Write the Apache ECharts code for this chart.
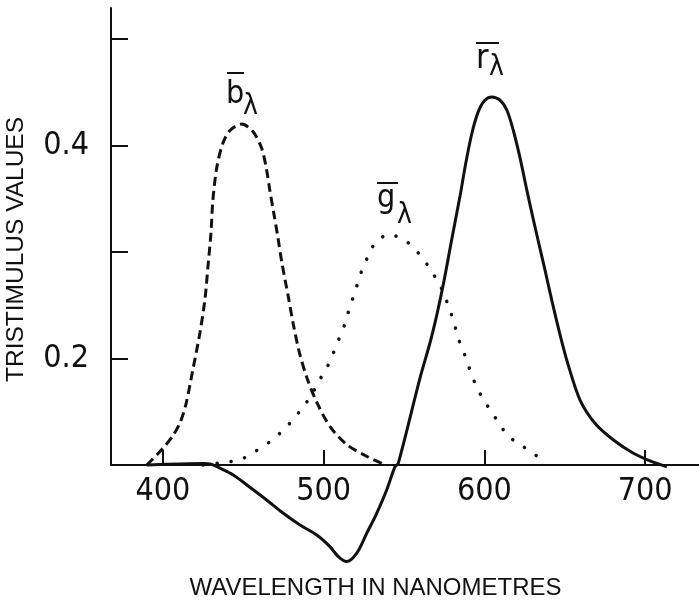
<!DOCTYPE html>
<html>
<head>
<meta charset="utf-8">
<script src="https://cdn.jsdelivr.net/npm/echarts@6/dist/echarts.min.js"></script>
<style>
  html, body { margin: 0; padding: 0; background: #fff; }
  #chart { width: 699px; height: 603px; }
</style>
</head>
<body>
<div id="chart"></div>
<script>
// tristimulus curves, wavelength (nm) and value
const bWave = [390, 392, 399, 406, 411, 414.3, 418.7, 423, 426.1, 428, 429.9, 431.1, 433.6, 437.3, 441.7, 449, 456, 461.5, 464.5, 466.5, 469, 471.5, 474, 478, 481, 485, 490, 496, 504, 514.5, 527, 537];
const bVal = [0.100, 0.103, 0.114, 0.127, 0.141, 0.157, 0.190, 0.224, 0.255, 0.286, 0.318, 0.349, 0.380, 0.402, 0.414, 0.420, 0.413, 0.397, 0.377, 0.358, 0.336, 0.314, 0.290, 0.258, 0.233, 0.205, 0.180, 0.158, 0.136, 0.119, 0.108, 0.101];

const gWave = [425, 438, 448, 457.7, 466.6, 474.4, 480.6, 487, 492.6, 497.1, 501.9, 506, 509.7, 513.3, 516, 518.9, 521.7, 524.5, 527.4, 531.9, 540.7, 551.2, 558.3, 564.5, 569.9, 574.5, 577.6, 581.1, 583.2, 586.9, 590.6, 593.8, 598.4, 603.5, 609.4, 614.9, 622.6, 630, 637.8];
const gVal = [0.100, 0.1025, 0.105, 0.113, 0.122, 0.132, 0.142, 0.154, 0.166, 0.179, 0.191, 0.205, 0.219, 0.233, 0.247, 0.260, 0.273, 0.286, 0.295, 0.308, 0.3165, 0.310, 0.300, 0.288, 0.275, 0.262, 0.249, 0.234, 0.221, 0.207, 0.191, 0.178, 0.164, 0.152, 0.1385, 0.127, 0.119, 0.111, 0.1035];

const rWave = [390, 410.6, 426.1, 429.3, 435.5, 443.8, 454.1, 464.5, 474.9, 485.3, 495.7, 503.9, 509.1, 514.3, 520.6, 526.8, 533, 539.2, 544.4, 546.4, 560, 566.2, 570.4, 574.5, 579.7, 584.9, 588, 592, 596, 600, 604.6, 609.7, 614, 618, 622.2, 626.4, 630.5, 634, 638, 642, 647.1, 652.3, 659.5, 668.9, 680.3, 692.7, 704.2, 713.5];
const rVal = [0.100, 0.101, 0.1014, 0.101, 0.097, 0.0906, 0.0791, 0.0672, 0.0547, 0.0437, 0.0343, 0.0234, 0.014, 0.0093, 0.0172, 0.0359, 0.0547, 0.0765, 0.0984, 0.1016, 0.182, 0.215, 0.241, 0.270, 0.312, 0.353, 0.380, 0.410, 0.431, 0.442, 0.4455, 0.4425, 0.433, 0.414, 0.388, 0.358, 0.330, 0.307, 0.281, 0.254, 0.222, 0.193, 0.161, 0.139, 0.1235, 0.111, 0.1031, 0.0984];

const xTicks = [400, 500, 600, 700];
const yTicks = [0.2, 0.3, 0.4, 0.5];
const yLabels = [0.2, 0.4];

const narrow = '"Liberation Sans Narrow", "DejaVu Sans Condensed", sans-serif';
const plain = '"Liberation Sans", Arial, sans-serif';

function pairs(xs, ys) {
  return xs.map((x, i) => [x, ys[i]]);
}

// curve label: letter with a bar over it and a lambda subscript
function curveLabel(letter, x, y, size, barFrom, barTo, barY, lx, ly) {
  return [
    { type: 'text', x: x, y: y, style: { text: letter, font: size + 'px ' + narrow, fill: '#111', verticalAlign: 'middle' } },
    { type: 'line', shape: { x1: barFrom, y1: barY, x2: barTo, y2: barY }, style: { stroke: '#111', lineWidth: 2 } },
    { type: 'text', x: lx, y: ly, style: { text: 'λ', font: '28px ' + narrow, fill: '#111', verticalAlign: 'middle' } }
  ];
}

const chart = echarts.init(document.getElementById('chart'));
const option = {
  backgroundColor: '#fff',
  animation: false,
  grid: { left: 111, right: 0, top: 8, bottom: 138, containLabel: false },
  xAxis: {
    type: 'value',
    min: 367.7,
    max: 733.5,
    splitLine: { show: false },
    axisLine: { lineStyle: { color: '#111', width: 2 } },
    axisTick: { inside: true, length: 15, customValues: xTicks, lineStyle: { color: '#111', width: 2 } },
    axisLabel: { customValues: xTicks, margin: 11, color: '#111', fontSize: 32, fontFamily: narrow }
  },
  yAxis: {
    type: 'value',
    min: 0.1,
    max: 0.529,
    splitLine: { show: false },
    axisLine: { lineStyle: { color: '#111', width: 2 } },
    axisTick: { inside: true, length: 17, customValues: yTicks, lineStyle: { color: '#111', width: 2 } },
    axisLabel: { customValues: yLabels, margin: 22, color: '#111', fontSize: 32, fontFamily: narrow,
      formatter: v => v.toFixed(1) }
  },
  graphic: [
    { type: 'text', x: 16, y: 249.5, rotation: Math.PI / 2,
      style: { text: 'TRISTIMULUS VALUES', font: '24.5px ' + plain, fill: '#111', align: 'center', verticalAlign: 'middle' } },
    { type: 'text', x: 375.5, y: 588,
      style: { text: 'WAVELENGTH IN NANOMETRES', font: '24px ' + plain, fill: '#111', align: 'center', verticalAlign: 'middle' } }
  ]
    .concat(curveLabel('b', 226, 95, 32, 227, 244, 73, 243, 107))
    .concat(curveLabel('g', 377, 199, 32, 377, 398, 183, 397, 216))
    .concat(curveLabel('r', 476, 59, 34, 476, 499, 43, 489, 68)),
  series: [
    {
      name: 'b', type: 'line', data: pairs(bWave, bVal), symbol: 'none', smooth: 0.3, clip: false,
      lineStyle: { color: '#111', width: 3, type: [9, 5] }
    },
    {
      name: 'g', type: 'line', data: pairs(gWave, gVal), symbol: 'none', smooth: 0.3, clip: false,
      lineStyle: { color: '#111', width: 3.5, type: [0.1, 14], cap: 'round' }
    },
    {
      name: 'r', type: 'line', data: pairs(rWave, rVal), symbol: 'none', smooth: 0.3, clip: false,
      lineStyle: { color: '#111', width: 3 }
    }
  ]
};
chart.setOption(option);
</script>
</body>
</html>
